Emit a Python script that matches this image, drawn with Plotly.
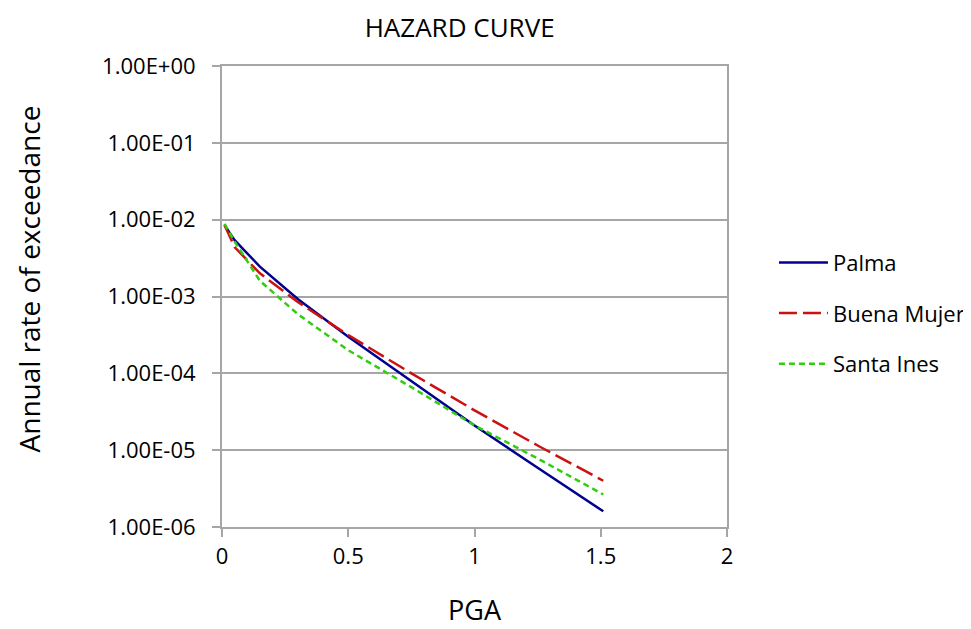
import plotly.graph_objects as go

# PGA values (g)
pga = [0.01, 0.05, 0.15, 0.3, 0.5, 0.75, 1.0, 1.25, 1.51]

# Annual rate of exceedance per site
palma = [8.5e-3, 5.4e-3, 2.45e-3, 9.3e-4, 3.0e-4, 7.9e-5, 2.1e-5, 5.9e-6, 1.6e-6]
buena_mujer = [8.5e-3, 4.4e-3, 2.0e-3, 8.5e-4, 3.15e-4, 1.0e-4, 3.3e-5, 1.15e-5, 4.0e-6]
santa_ines = [8.8e-3, 5.2e-3, 1.6e-3, 5.9e-4, 2.0e-4, 6.6e-5, 2.1e-5, 7.8e-6, 2.65e-6]

y_tickvals = [1, 1e-1, 1e-2, 1e-3, 1e-4, 1e-5, 1e-6]
y_ticktext = ["1.00E+00", "1.00E-01", "1.00E-02", "1.00E-03", "1.00E-04", "1.00E-05", "1.00E-06"]
x_tickvals = [0, 0.5, 1, 1.5, 2]
x_ticktext = ["0", "0.5", "1", "1.5", "2"]

FONT = "Open Sans"
GRID = "#a6a6a6"

fig = go.Figure()
fig.add_trace(go.Scatter(x=pga, y=palma, mode="lines", name="Palma", legendgroup="a",
                         line=dict(color="#000090", width=2.5)))
fig.add_trace(go.Scatter(x=pga, y=buena_mujer, mode="lines", name="Buena Mujer", legendgroup="b",
                         line=dict(color="#CC1111", width=2.5, dash="18px,6px")))
fig.add_trace(go.Scatter(x=pga, y=santa_ines, mode="lines", name="Santa Ines", legendgroup="c",
                         line=dict(color="#33CC11", width=2.5, dash="6px,4px")))

fig.add_annotation(text="Annual rate of exceedance", textangle=-90,
                   xref="paper", yref="paper", x=0, y=0.5,
                   xanchor="center", yanchor="middle", xshift=-194, yshift=17,
                   showarrow=False, font=dict(size=28, family=FONT, color="black"))

fig.update_layout(
    width=963, height=621,
    margin=dict(l=214, r=244, t=58, b=102, autoexpand=False),
    paper_bgcolor="white", plot_bgcolor="white",
    font=dict(family=FONT, size=22, color="black"),
    title=dict(text="HAZARD CURVE", x=0.469, xanchor="center", y=0.968, yanchor="middle",
               font=dict(size=26, family=FONT)),
    showlegend=True,
    legend=dict(x=1.093, y=0.619, xanchor="left", yanchor="top",
                font=dict(size=22, family=FONT), tracegroupgap=19, itemwidth=49,
                bgcolor="rgba(0,0,0,0)"),
    xaxis=dict(range=[0, 2], tickvals=x_tickvals, ticktext=x_ticktext,
               showgrid=False, zeroline=False, automargin=False,
               showline=True, linecolor=GRID, linewidth=2, mirror=True,
               ticks="outside", ticklen=8, tickwidth=2, tickcolor=GRID,
               ticklabelstandoff=1,
               title=dict(text="PGA", font=dict(size=27, family=FONT), standoff=32)),
    yaxis=dict(type="log", range=[-6, 0], tickvals=y_tickvals, ticktext=y_ticktext,
               showgrid=True, gridcolor=GRID, gridwidth=2, zeroline=False, automargin=False,
               showline=True, linecolor=GRID, linewidth=2, mirror=True,
               ticks="outside", ticklen=8, tickwidth=2, tickcolor=GRID,
               ticklabelstandoff=12),
)

fig.write_html("out.html")
